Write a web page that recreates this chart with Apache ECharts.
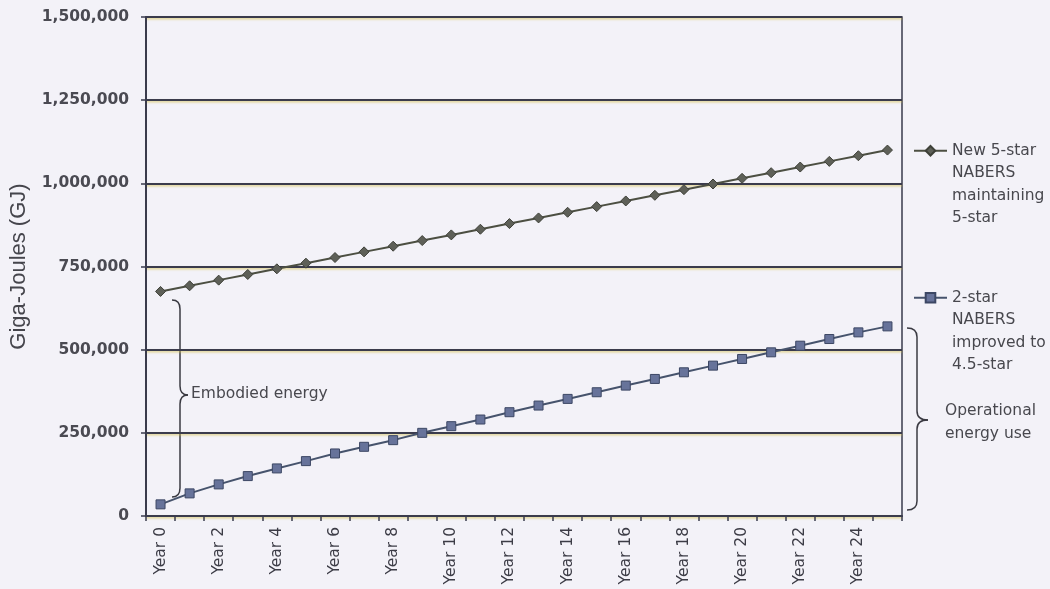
<!DOCTYPE html>
<html>
<head>
<meta charset="utf-8">
<script src="https://cdn.jsdelivr.net/npm/echarts@6/dist/echarts.min.js"></script>
<style>
  html, body { margin: 0; padding: 0; background: #f3f2f8; }
  #chart { width: 1050px; height: 589px; }
</style>
</head>
<body>
<div id="chart"></div>
<script>
var years = ['Year 0', 'Year 1', 'Year 2', 'Year 3', 'Year 4', 'Year 5', 'Year 6', 'Year 7', 'Year 8',
  'Year 9', 'Year 10', 'Year 11', 'Year 12', 'Year 13', 'Year 14', 'Year 15', 'Year 16', 'Year 17',
  'Year 18', 'Year 19', 'Year 20', 'Year 21', 'Year 22', 'Year 23', 'Year 24', 'Year 25'];

// New 5-star NABERS maintaining 5-star
var newFiveStar = [675000, 692000, 709000, 726000, 743000, 760000, 777000, 794000, 811000,
  828000, 845000, 862000, 879000, 896000, 913000, 930000, 947000, 964000,
  981000, 998000, 1015000, 1032000, 1049000, 1066000, 1083000, 1100000];

// 2-star NABERS improved to 4.5-star
var twoStar = [35000, 68000, 95000, 120000, 143000, 165000, 188000, 208000, 228000,
  250000, 270000, 290000, 312000, 332000, 352000, 372000, 392000, 412000,
  432000, 452000, 472000, 492000, 512000, 532000, 552000, 570000];

var names = ['New 5-star NABERS maintaining 5-star', '2-star NABERS improved to 4.5-star'];
// three blank lines on top keep the first line level with the legend icon
var legendText = {};
legendText[names[0]] = '\n\n\nNew 5-star\nNABERS\nmaintaining\n5-star';
legendText[names[1]] = '\n\n\n2-star\nNABERS\nimproved to\n4.5-star';

var font = 'DejaVu Sans';
var ink = '#3a3b4c';

function commas(v) {
  return String(v).replace(/\B(?=(\d{3})+(?!\d))/g, ',');
}

function legendAt(name, top) {
  return {
    data: [name],
    orient: 'vertical',
    left: 913,
    top: top,
    padding: 0,
    itemWidth: 33,
    itemHeight: 12,
    selectedMode: false,
    formatter: function (n) { return legendText[n]; },
    textStyle: {
      fontFamily: font,
      fontSize: 15.5,
      color: '#48484e',
      lineHeight: 22.5
    }
  };
}

// curly brace opening to the right: ends at x0, spine at x1, tip at xt
function brace(x0, x1, xt, yTop, yMid, yBot) {
  var st = { stroke: '#3a3a42', lineWidth: 1.5, fill: 'none' };
  var r = 9;
  return [
    { type: 'bezierCurve', shape: { x1: x0, y1: yTop, cpx1: x1, cpy1: yTop, x2: x1, y2: yTop + r }, style: st },
    { type: 'line', shape: { x1: x1, y1: yTop + r, x2: x1, y2: yMid - r }, style: st },
    { type: 'bezierCurve', shape: { x1: x1, y1: yMid - r, cpx1: x1, cpy1: yMid, x2: xt, y2: yMid }, style: st },
    { type: 'bezierCurve', shape: { x1: xt, y1: yMid, cpx1: x1, cpy1: yMid, x2: x1, y2: yMid + r }, style: st },
    { type: 'line', shape: { x1: x1, y1: yMid + r, x2: x1, y2: yBot - r }, style: st },
    { type: 'bezierCurve', shape: { x1: x1, y1: yBot - r, cpx1: x1, cpy1: yBot, x2: x0, y2: yBot }, style: st }
  ];
}

var chart = echarts.init(document.getElementById('chart'));

var graphics = brace(172, 180, 188, 300, 395, 497)
  .concat(brace(907, 917, 928, 328, 420, 510))
  .concat([
    {
      type: 'text',
      left: 191,
      top: 386,
      style: { text: 'Embodied energy', fontFamily: font, fontSize: 15.5, fill: '#48484e' }
    },
    {
      type: 'text',
      left: 945,
      top: 400,
      style: { text: 'Operational\nenergy use', fontFamily: font, fontSize: 15.5, lineHeight: 22.5, fill: '#48484e' }
    }
  ]);

var option = {
  backgroundColor: '#f3f2f8',
  animation: false,
  grid: {
    left: 144,
    right: 148,
    top: 17,
    bottom: 73,
    show: true,
    borderColor: ink,
    borderWidth: 1.5,
    backgroundColor: 'transparent'
  },
  legend: [legendAt(names[0], 151 - 79), legendAt(names[1], 298 - 79)],
  xAxis: {
    type: 'category',
    data: years,
    boundaryGap: true,
    axisLine: { lineStyle: { color: ink, width: 2 } },
    axisTick: { show: true, length: 5, interval: 0, lineStyle: { color: ink, width: 1.5 } },
    axisLabel: {
      interval: 1,
      rotate: 90,
      margin: 11,
      fontFamily: font,
      fontSize: 15.5,
      color: '#3c3c46'
    },
    splitLine: { show: false }
  },
  yAxis: {
    type: 'value',
    min: 0,
    max: 1500000,
    interval: 250000,
    name: 'Giga-Joules (GJ)',
    nameLocation: 'middle',
    nameGap: 116,
    nameTextStyle: { fontFamily: 'Liberation Sans', fontSize: 22, color: '#45454c' },
    axisLine: { show: true, lineStyle: { color: ink, width: 2 } },
    axisTick: { show: true, length: 5, lineStyle: { color: ink, width: 1.5 } },
    axisLabel: {
      margin: 17,
      fontFamily: font,
      fontSize: 15.5,
      fontWeight: 'bold',
      color: '#4a4a52',
      formatter: function (v) { return commas(v); }
    },
    splitLine: {
      show: true,
      lineStyle: {
        color: ink,
        width: 2,
        shadowColor: 'rgba(210,190,70,0.6)',
        shadowBlur: 2,
        shadowOffsetY: 1.5
      }
    }
  },
  series: [
    {
      name: names[0],
      type: 'line',
      data: newFiveStar,
      symbol: 'diamond',
      symbolSize: 10,
      lineStyle: { color: '#4c4f42', width: 2 },
      itemStyle: { color: '#5e6058', borderColor: '#3e4038', borderWidth: 1 }
    },
    {
      name: names[1],
      type: 'line',
      data: twoStar,
      symbol: 'rect',
      symbolSize: 9,
      lineStyle: { color: '#46536c', width: 2 },
      itemStyle: { color: '#67739a', borderColor: '#3c4764', borderWidth: 1 }
    }
  ],
  graphic: graphics
};

chart.setOption(option);
</script>
</body>
</html>
